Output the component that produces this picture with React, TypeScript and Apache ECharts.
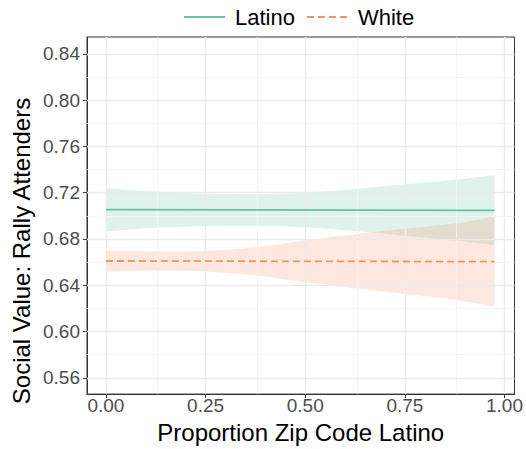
import React, { useEffect, useRef } from "react";
import * as echarts from "echarts";

const xBand = [0, 0.125, 0.25, 0.375, 0.5, 0.625, 0.75, 0.875, 0.975];
const latinoUpper = [0.724, 0.7208, 0.7192, 0.719, 0.72, 0.7232, 0.7272, 0.7312, 0.735];
const latinoLower = [0.6866, 0.6897, 0.6912, 0.6914, 0.6902, 0.6868, 0.6828, 0.6786, 0.6746];
const whiteUpper = [0.6701, 0.6692, 0.6697, 0.6728, 0.6788, 0.6842, 0.6888, 0.6934, 0.6993];
const whiteLower = [0.6519, 0.6528, 0.652, 0.6484, 0.6426, 0.6375, 0.6324, 0.6276, 0.6216];

const xLine = [0, 0.975];
const latinoLine = [0.7053, 0.7048];
const whiteLine = [0.661, 0.6604];

const xTicks = [0, 0.25, 0.5, 0.75, 1.0];
const xMinor = [0.125, 0.375, 0.625, 0.875];
const yTicks = [0.56, 0.6, 0.64, 0.68, 0.72, 0.76, 0.8, 0.84];
const yMinor = [0.58, 0.62, 0.66, 0.7, 0.74, 0.78, 0.82];

const GREEN = "#66C2A5";
const ORANGE = "#FC8D62";
const FONT = "Liberation Sans, Arial, Helvetica, sans-serif";

function smoothSegs(pts: number[][]): string {
  // Catmull-Rom through points, as cubic bezier segments (no initial move)
  let d = "";
  for (let i = 0; i < pts.length - 1; i++) {
    const p0 = pts[Math.max(0, i - 1)];
    const p1 = pts[i];
    const p2 = pts[i + 1];
    const p3 = pts[Math.min(pts.length - 1, i + 2)];
    const c1x = p1[0] + (p2[0] - p0[0]) / 6;
    const c1y = p1[1] + (p2[1] - p0[1]) / 6;
    const c2x = p2[0] - (p3[0] - p1[0]) / 6;
    const c2y = p2[1] - (p3[1] - p1[1]) / 6;
    d += ` C ${c1x} ${c1y} ${c2x} ${c2y} ${p2[0]} ${p2[1]}`;
  }
  return d;
}

export default function App() {
  const ref = useRef<HTMLDivElement>(null);
  useEffect(() => {
    if (!ref.current) return;
    const chart = echarts.init(ref.current, undefined, { renderer: "svg" });
    const pairs = (xs: number[], ys: number[]) => xs.map((x, i) => [x, ys[i]]);
    const majorStyle = { color: "#EBEBEB", width: 1.4, type: "solid" as const };
    const minorStyle = { color: "#F3F3F3", width: 0.8, type: "solid" as const };
    const gridLines = [
      ...xTicks.map((v) => ({ xAxis: v, lineStyle: majorStyle })),
      ...xMinor.map((v) => ({ xAxis: v, lineStyle: minorStyle })),
      ...yTicks.map((v) => ({ yAxis: v, lineStyle: majorStyle })),
      ...yMinor.map((v) => ({ yAxis: v, lineStyle: minorStyle })),
    ];
    const bandSeries = (name: string, xs: number[], up: number[], lo: number[], color: string) => ({
      name,
      type: "custom",
      silent: true,
      z: 2,
      data: xs.map((x, i) => [x, lo[i], up[i]]),
      encode: { x: 0, y: [1, 2] },
      renderItem: (params: any, api: any) => {
        if (params.dataIndex !== 0) return null;
        const top = xs.map((x, i) => api.coord([x, up[i]]));
        const bot = xs.map((x, i) => api.coord([x, lo[i]])).reverse();
        const d =
          `M ${top[0][0]} ${top[0][1]}` +
          smoothSegs(top) +
          ` L ${bot[0][0]} ${bot[0][1]}` +
          smoothSegs(bot) +
          " Z";
        return {
          type: "path",
          shape: { pathData: d },
          style: { fill: color, opacity: 0.21 },
          silent: true,
        };
      },
    });
    chart.setOption({
      animation: false,
      backgroundColor: "#FFFFFF",
      textStyle: { fontFamily: FONT },
      grid: {
        left: 87,
        right: 11,
        top: 37,
        bottom: 50,
        show: true,
        borderColor: "#333333",
        borderWidth: 1,
        backgroundColor: "transparent",
        containLabel: false,
      },
      legend: {
        data: ["Latino", "White"],
        left: 178,
        top: 1,
        itemWidth: 41,
        itemHeight: 14,
        itemGap: 11,
        itemStyle: { opacity: 0 },
        textStyle: { fontSize: 22, color: "#000000", fontFamily: FONT, padding: [0, 0, 0, 5] },
      },
      xAxis: {
        type: "value",
        min: -0.0475,
        max: 1.025,
        name: "Proportion Zip Code Latino",
        nameLocation: "middle",
        nameGap: 24,
        nameTextStyle: { fontSize: 24, color: "#000000", fontFamily: FONT, verticalAlign: "top" },
        axisLine: { show: true, onZero: false, lineStyle: { color: "#333333", width: 1 } },
        axisTick: { show: true, length: 4, customValues: xTicks, lineStyle: { color: "#333333" } },
        axisLabel: {
          customValues: xTicks,
          formatter: (v: number) => v.toFixed(2),
          fontSize: 19,
          color: "#4D4D4D",
          margin: 2,
          fontFamily: FONT,
        },
        splitLine: { show: false },
      },
      yAxis: {
        type: "value",
        min: 0.546,
        max: 0.8545,
        axisLine: { show: true, onZero: false, lineStyle: { color: "#333333", width: 1 } },
        axisTick: { show: true, length: 4, customValues: yTicks, lineStyle: { color: "#333333" } },
        axisLabel: {
          customValues: yTicks,
          formatter: (v: number) => v.toFixed(2),
          fontSize: 19,
          color: "#4D4D4D",
          margin: 7,
          fontFamily: FONT,
        },
        splitLine: { show: false },
      },
      graphic: [
        {
          type: "text",
          x: 21,
          y: 251,
          rotation: Math.PI / 2,
          style: {
            text: "Social Value: Rally Attenders",
            fontSize: 24,
            fontFamily: FONT,
            fill: "#000000",
            textAlign: "center",
            textVerticalAlign: "middle",
          },
        },
      ],
      series: [
        {
          name: "grid",
          type: "line",
          data: [],
          silent: true,
          z: 1,
          markLine: {
            silent: true,
            symbol: ["none", "none"],
            label: { show: false },
            animation: false,
            data: gridLines,
          },
        },
        bandSeries("LatinoBand", xBand, latinoUpper, latinoLower, GREEN),
        bandSeries("WhiteBand", xBand, whiteUpper, whiteLower, ORANGE),
        {
          name: "Latino",
          type: "line",
          data: pairs(xLine, latinoLine),
          symbol: "none",
          color: GREEN,
          lineStyle: { color: GREEN, width: 1.8 },
          z: 5,
        },
        {
          name: "White",
          type: "line",
          data: pairs(xLine, whiteLine),
          symbol: "none",
          color: ORANGE,
          lineStyle: { color: ORANGE, width: 1.8, type: [7, 4] },
          z: 5,
        },
      ],
    });
    return () => chart.dispose();
  }, []);
  return (
    <div
      ref={ref}
      style={{ position: "fixed", left: 0, top: 0, width: 526, height: 449 }}
    />
  );
}
